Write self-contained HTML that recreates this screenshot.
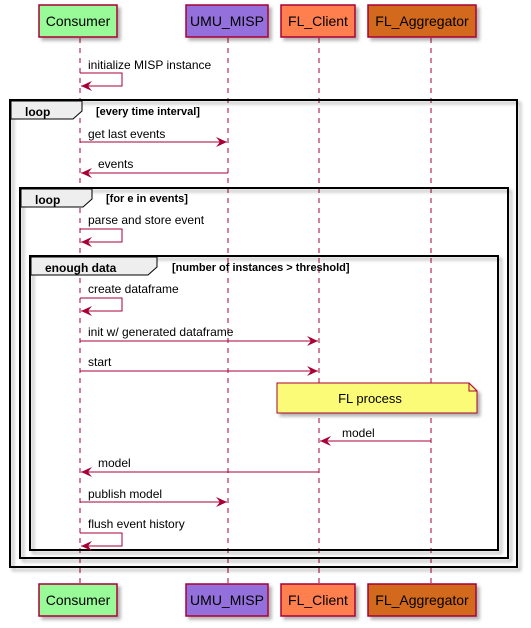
<!DOCTYPE html>
<html><head><style>body{margin:0;background:#fff}svg{display:block}</style></head><body>
<svg width="531" height="628" xmlns="http://www.w3.org/2000/svg" font-family="Liberation Sans, sans-serif">
<defs>
<filter id="sh" x="-10%" y="-10%" width="130%" height="130%"><feDropShadow dx="3" dy="3" stdDeviation="1.5" flood-color="#000" flood-opacity="0.3"/></filter>
<marker id="ah" markerWidth="12" markerHeight="10" refX="11" refY="5" orient="auto" markerUnits="userSpaceOnUse"><path d="M0,0 L11,5 L0,10 L4,5 Z" fill="#A80036"/></marker>
</defs>
<g stroke="#A80036" stroke-dasharray="5,5" stroke-width="1">
<line x1="80" y1="38" x2="80" y2="584"/><line x1="228" y1="38" x2="228" y2="584"/><line x1="319" y1="38" x2="319" y2="584"/><line x1="431" y1="38" x2="431" y2="584"/>
</g>
<g stroke="#A80036" stroke-width="1.5" filter="url(#sh)" font-size="14">
<rect x="39" y="5" width="78" height="32" fill="#98FB98"/><rect x="186" y="5" width="82" height="32" fill="#9370DB"/><rect x="281" y="5" width="74" height="32" fill="#FF7F50"/><rect x="368" y="5" width="108" height="32" fill="#D2691E"/>
<rect x="39" y="584" width="78" height="32" fill="#98FB98"/><rect x="186" y="584" width="82" height="32" fill="#9370DB"/><rect x="281" y="584" width="74" height="32" fill="#FF7F50"/><rect x="368" y="584" width="108" height="32" fill="#D2691E"/>
</g>
<g font-size="14" text-anchor="middle" fill="#000">
<text x="78" y="26">Consumer</text><text x="227" y="26">UMU_MISP</text><text x="318" y="26">FL_Client</text><text x="422" y="26">FL_Aggregator</text>
<text x="78" y="605">Consumer</text><text x="227" y="605">UMU_MISP</text><text x="318" y="605">FL_Client</text><text x="422" y="605">FL_Aggregator</text>
</g>
<g fill="none" stroke="#000" stroke-width="2" filter="url(#sh)">
<rect x="10" y="100" width="507" height="467"/><rect x="20" y="188" width="488" height="370"/><rect x="30" y="256" width="468" height="294"/>
</g>
<g stroke="#000" stroke-width="1" fill="#EEEEEE">
<path d="M11,101 H82 V111 L73,119 H11 Z"/><path d="M21,189 H92 V199 L83,207 H21 Z"/><path d="M31,257 H157 V267 L148,275 H31 Z"/>
</g>
<g font-size="12" font-weight="bold" fill="#000">
<text x="25" y="116">loop</text><text x="35" y="204">loop</text><text x="45" y="272">enough data</text>
</g>
<g font-size="11" font-weight="bold" fill="#000">
<text x="96" y="115">[every time interval]</text><text x="106" y="202">[for e in events]</text><text x="172" y="271">[number of instances &gt; threshold]</text>
</g>
<path d="M277,383 H469 L477,391 V413 H277 Z" fill="#FBFB77" stroke="#A80036" filter="url(#sh)"/>
<path d="M469,383 V391 H477" fill="none" stroke="#A80036"/>
<text x="370" y="403" font-size="13" text-anchor="middle">FL process</text>
<g stroke="#A80036" fill="none" stroke-width="1" marker-end="url(#ah)">
<polyline points="80,73 122,73 122,86 81,86"/>
<line x1="80" y1="142" x2="227" y2="142"/>
<line x1="228" y1="173" x2="81" y2="173"/>
<polyline points="80,229 122,229 122,242 81,242"/>
<polyline points="80,298 122,298 122,311 81,311"/>
<line x1="80" y1="341" x2="318" y2="341"/>
<line x1="80" y1="371" x2="318" y2="371"/>
<line x1="431" y1="441" x2="320" y2="441"/>
<line x1="319" y1="472" x2="81" y2="472"/>
<line x1="80" y1="502" x2="227" y2="502"/>
<polyline points="80,533 122,533 122,546 81,546"/>
</g>
<g font-size="12" fill="#000">
<text x="88" y="69">initialize MISP instance</text>
<text x="88" y="138">get last events</text>
<text x="98" y="168">events</text>
<text x="88" y="224">parse and store event</text>
<text x="88" y="293">create dataframe</text>
<text x="88" y="336">init w/ generated dataframe</text>
<text x="88" y="366">start</text>
<text x="342" y="437">model</text>
<text x="98" y="467">model</text>
<text x="88" y="498">publish model</text>
<text x="88" y="528">flush event history</text>
</g>
</svg>
</body></html>
